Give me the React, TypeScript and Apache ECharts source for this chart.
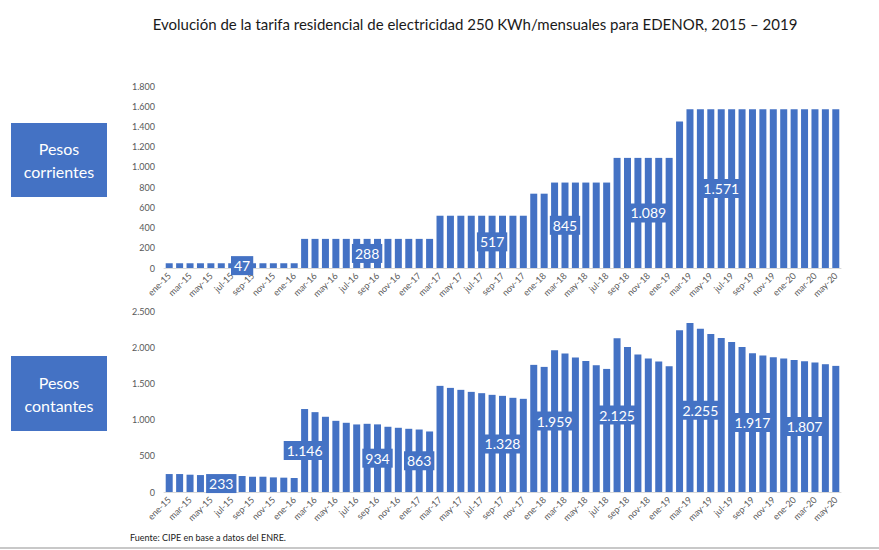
import React, { useEffect, useRef } from "react";
import * as echarts from "echarts";

const categories = [
  "ene-15","feb-15","mar-15","abr-15","may-15","jun-15","jul-15","ago-15","sep-15","oct-15","nov-15","dic-15",
  "ene-16","feb-16","mar-16","abr-16","may-16","jun-16","jul-16","ago-16","sep-16","oct-16","nov-16","dic-16",
  "ene-17","feb-17","mar-17","abr-17","may-17","jun-17","jul-17","ago-17","sep-17","oct-17","nov-17","dic-17",
  "ene-18","feb-18","mar-18","abr-18","may-18","jun-18","jul-18","ago-18","sep-18","oct-18","nov-18","dic-18",
  "ene-19","feb-19","mar-19","abr-19","may-19","jun-19","jul-19","ago-19","sep-19","oct-19","nov-19","dic-19",
  "ene-20","feb-20","mar-20","abr-20","may-20",
];

const pesosCorrientes = [
  47, 47, 47, 47, 47, 47, 47, 47, 47, 47, 47, 47, 47,
  288, 288, 288, 288, 288, 288, 288, 288, 288, 288, 288, 288, 288,
  517, 517, 517, 517, 517, 517, 517, 517, 517,
  735, 735,
  845, 845, 845, 845, 845, 845,
  1089, 1089, 1089, 1089, 1089, 1089,
  1450,
  1571, 1571, 1571, 1571, 1571, 1571, 1571, 1571, 1571, 1571, 1571, 1571, 1571, 1571, 1571,
];

const pesosConstantes = [
  248, 248, 239, 234, 234, 233, 221, 221, 211, 211, 202, 198, 193,
  1146, 1103, 1039, 983, 956, 933, 942, 934, 901, 887, 873, 863, 836,
  1466, 1438, 1411, 1383, 1365, 1342, 1328, 1301, 1287,
  1756, 1728,
  1959, 1912, 1857, 1811, 1751, 1700,
  2125, 2004, 1898, 1843, 1801, 1737,
  2233,
  2335, 2255, 2183, 2128, 2073, 2004, 1917, 1884, 1861, 1843, 1824, 1807, 1788, 1765, 1742,
];

const corrientesLabelIdx = [7, 19, 31, 38, 46, 53];
const constantesLabelIdx = [5, 13, 20, 24, 32, 37, 43, 51, 56, 61];

const topTicks = { min: 0, max: 1800, interval: 200 };
const bottomTicks = { min: 0, max: 2500, interval: 500 };

const BLUE = "#4472C4";
const FONT = "Lato, 'Open Sans', sans-serif";

const fmt = (v: number) => String(v).replace(/\B(?=(\d{3})+(?!\d))/g, ".");

function buildData(values: number[], labelIdx: number[]) {
  return values.map((v, i) =>
    labelIdx.includes(i)
      ? {
          value: v,
          label: {
            show: true,
            position: "inside",
            formatter: (p: any) => fmt(p.value),
            color: "#ffffff",
            fontSize: 14,
            fontFamily: FONT,
            backgroundColor: BLUE,
            padding: [3, 3, 2, 3],
          },
        }
      : v
  );
}

export default function App() {
  const ref = useRef<HTMLDivElement>(null);

  useEffect(() => {
    if (!ref.current) return;
    const chart = echarts.init(ref.current, null, { renderer: "svg" });

    const xAxisBase = {
      type: "category",
      data: categories,
      axisTick: { show: false },
      axisLine: { show: true, lineStyle: { color: "#d9d9d9", width: 1 } },
      axisLabel: {
        interval: 1,
        rotate: 45,
        fontSize: 9,
        color: "#595959",
        fontFamily: FONT,
        margin: 6,
      },
    };
    const yAxisBase = {
      type: "value",
      splitLine: { show: false },
      axisLine: { show: false },
      axisTick: { show: false },
      axisLabel: {
        fontSize: 9,
        color: "#595959",
        fontFamily: FONT,
        margin: 9,
        formatter: (v: number) => fmt(v),
      },
    };

    chart.setOption({
      animation: false,
      backgroundColor: "#ffffff",
      textStyle: { fontFamily: FONT },
      title: {
        text: "Evolución de la tarifa residencial de electricidad 250 KWh/mensuales para EDENOR, 2015 – 2019",
        left: 470,
        textAlign: "center",
        top: 11,
        textStyle: { fontSize: 15, fontWeight: "normal", color: "#1a1a1a", fontFamily: FONT },
      },
      grid: [
        { left: 164, width: 677, top: 86, height: 182 },
        { left: 164, width: 677, top: 311, height: 181 },
      ],
      xAxis: [
        { ...xAxisBase, gridIndex: 0 },
        { ...xAxisBase, gridIndex: 1 },
      ],
      yAxis: [
        { ...yAxisBase, gridIndex: 0, ...topTicks },
        { ...yAxisBase, gridIndex: 1, ...bottomTicks },
      ],
      series: [
        {
          type: "bar",
          name: "Pesos corrientes",
          xAxisIndex: 0,
          yAxisIndex: 0,
          barWidth: 7,
          itemStyle: { color: BLUE },
          data: buildData(pesosCorrientes, corrientesLabelIdx),
          z: 2,
        },
        {
          type: "bar",
          name: "Pesos constantes",
          xAxisIndex: 1,
          yAxisIndex: 1,
          barWidth: 7,
          itemStyle: { color: BLUE },
          data: buildData(pesosConstantes, constantesLabelIdx),
          z: 2,
        },
      ],
      graphic: [
        {
          type: "rect",
          shape: { x: 11, y: 123, width: 96, height: 74 },
          style: { fill: BLUE },
        },
        {
          type: "text",
          x: 59,
          y: 160,
          style: {
            text: "Pesos\ncorrientes",
            fill: "#ffffff",
            fontSize: 16,
            fontFamily: FONT,
            lineHeight: 23,
            align: "center",
            verticalAlign: "middle",
          },
        },
        {
          type: "rect",
          shape: { x: 11, y: 356, width: 96, height: 75 },
          style: { fill: BLUE },
        },
        {
          type: "text",
          x: 59,
          y: 394,
          style: {
            text: "Pesos\ncontantes",
            fill: "#ffffff",
            fontSize: 16,
            fontFamily: FONT,
            lineHeight: 23,
            align: "center",
            verticalAlign: "middle",
          },
        },
        {
          type: "text",
          x: 130,
          y: 537,
          style: {
            text: "Fuente: CIPE en base a datos del ENRE.",
            fill: "#222222",
            fontSize: 9,
            fontFamily: FONT,
            verticalAlign: "middle",
          },
        },
        {
          type: "line",
          shape: { x1: 0, y1: 548, x2: 879, y2: 548 },
          style: { stroke: "#c8c8c8", lineWidth: 2 },
        },
      ],
    });

    return () => chart.dispose();
  }, []);

  return (
    <div
      ref={ref}
      style={{ position: "fixed", left: 0, top: 0, width: 879, height: 550 }}
    />
  );
}
